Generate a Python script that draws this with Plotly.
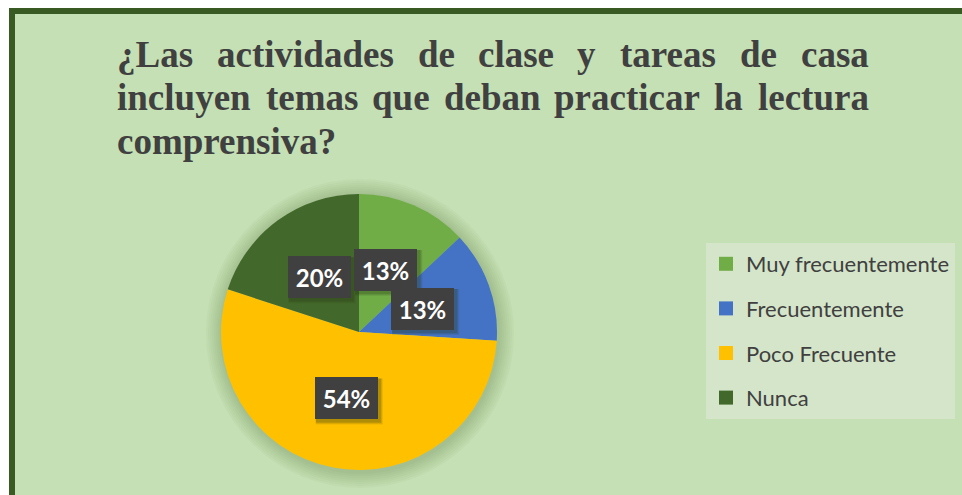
import math
import plotly.graph_objects as go

# ---------------- data ----------------
categories = ["Muy frecuentemente", "Frecuentemente", "Poco Frecuente", "Nunca"]
values = [13, 13, 54, 20]
colors = ["#70AD47", "#4472C4", "#FFC000", "#43682B"]
title_lines = [
    ["¿Las", "actividades", "de", "clase", "y", "tareas", "de", "casa"],
    ["incluyen", "temas", "que", "deban", "practicar", "la", "lectura"],
    ["comprensiva?"],
]

# ---------------- layout helpers ----------------
FW, FH = 962, 495
def px(x):
    return x / FW
def py(y):
    return 1 - y / FH

CX, CY, R = 359, 332, 138  # pie centre / radius in window pixels

fig = go.Figure()

fig.add_trace(go.Pie(
    labels=categories,
    values=values,
    marker=dict(colors=colors, line=dict(width=0)),
    sort=False,
    direction="clockwise",
    rotation=0,
    textinfo="none",
    hoverinfo="label+percent",
    showlegend=False,
    domain=dict(x=[px(CX - R), px(CX + R)], y=[py(CY + R), py(CY - R)]),
))

# legend entries (one per category)
for cat, col in zip(categories, colors):
    fig.add_trace(go.Scatter(
        x=[None], y=[None], mode="markers", name=cat, legendgroup=cat,
        marker=dict(symbol="square", size=14, color=col),
        hoverinfo="skip",
    ))

shapes = []
# frame
shapes.append(dict(type="rect", xref="paper", yref="paper",
                   x0=px(12), x1=px(990), y0=py(520), y1=py(11),
                   fillcolor="#C5E0B4", line=dict(color="#3A5A24", width=6),
                   layer="below"))
# soft shadow around the pie
for d in range(16, 0, -2):
    shapes.append(dict(type="circle", xref="paper", yref="paper",
                       x0=px(CX - R - d + 1), x1=px(CX + R + d + 1),
                       y0=py(CY + R + d + 2), y1=py(CY - R - d + 1),
                       fillcolor="rgba(60,80,40,0.03)", line=dict(width=0),
                       layer="below"))

annotations = []
# ---- title, justified word by word (Times New Roman Bold advance widths /1000) ----
TW = {"a": 500, "b": 556, "c": 444, "d": 556, "e": 444, "f": 333, "g": 500, "h": 556,
      "i": 278, "j": 333, "k": 556, "l": 278, "m": 833, "n": 556, "o": 500, "p": 556,
      "q": 556, "r": 444, "s": 389, "t": 333, "u": 556, "v": 500, "w": 722, "x": 500,
      "y": 500, "z": 444, "L": 667, "¿": 500, "?": 500}
TSIZE = 37
T_LEFT, T_RIGHT = 118, 868
title_font = dict(family="Liberation Serif, Times New Roman, serif", size=TSIZE, color="#404040")
line_mid_y = [54, 98, 141]
for li, (words, ym) in enumerate(zip(title_lines, line_mid_y)):
    widths = [sum(TW.get(ch, 500) for ch in w) * TSIZE / 1000 for w in words]
    n = len(words)
    last = li == len(title_lines) - 1
    gap = 0 if (last or n == 1) else (T_RIGHT - T_LEFT - sum(widths)) / (n - 1)
    x = T_LEFT
    for j, (w, wd) in enumerate(zip(words, widths)):
        if j == 0:
            xa, xx = "left", x - 3
        elif j == n - 1 and not last:
            xa, xx = "right", T_RIGHT + 3
        else:
            xa, xx = "center", x + wd / 2
        annotations.append(dict(text=f"<b>{w}</b>", x=px(xx), y=py(ym),
                                xref="paper", yref="paper", xanchor=xa,
                                yanchor="middle", showarrow=False, font=title_font))
        x += wd + gap

# ---- data labels positioned from slice mid-angles ----
BW, BH = 63, 42  # label box size in pixels
total = sum(values)
cum = 0
for v in values:
    mid = (cum + v / 2) / total * 2 * math.pi
    cum += v
    lx = CX + 0.49 * R * math.sin(mid)
    ly = CY - 0.49 * R * math.cos(mid)
    # soft drop shadow behind the label box
    for k, a in ((5, 0.10), (4, 0.14), (3, 0.18)):
        shapes.append(dict(type="rect", xref="paper", yref="paper", layer="above",
                           x0=px(lx - BW / 2 + 1), x1=px(lx + BW / 2 + k),
                           y0=py(ly + BH / 2 + k), y1=py(ly - BH / 2 + 1),
                           fillcolor=f"rgba(40,55,20,{a})", line=dict(width=0)))
    annotations.append(dict(text=f"<b>{v}%</b>", x=px(lx), y=py(ly), xref="paper", yref="paper",
                            xanchor="center", yanchor="middle", showarrow=False,
                            width=BW - 8, height=BH - 8, borderpad=3, borderwidth=1,
                            align="center", valign="middle",
                            font=dict(family="Lato, sans-serif", size=24, color="#FFFFFF"),
                            bgcolor="#404040", bordercolor="#404040"))

fig.update_layout(
    width=FW, height=FH,
    margin=dict(l=0, r=0, t=0, b=0),
    paper_bgcolor="#FFFFFF",
    plot_bgcolor="rgba(0,0,0,0)",
    xaxis=dict(visible=False),
    yaxis=dict(visible=False),
    shapes=shapes,
    annotations=annotations,
    showlegend=True,
    legend=dict(x=px(706), y=py(243), xanchor="left", yanchor="top",
                bgcolor="#D5E5CA", borderwidth=0,
                font=dict(family="Lato, sans-serif", size=22, color="#404040"),
                tracegroupgap=13, itemclick=False, itemdoubleclick=False),
)

fig.write_html("out.html",
               config={"displayModeBar": False},
               post_script="document.body.style.margin='0px';document.body.style.overflow='hidden';")
